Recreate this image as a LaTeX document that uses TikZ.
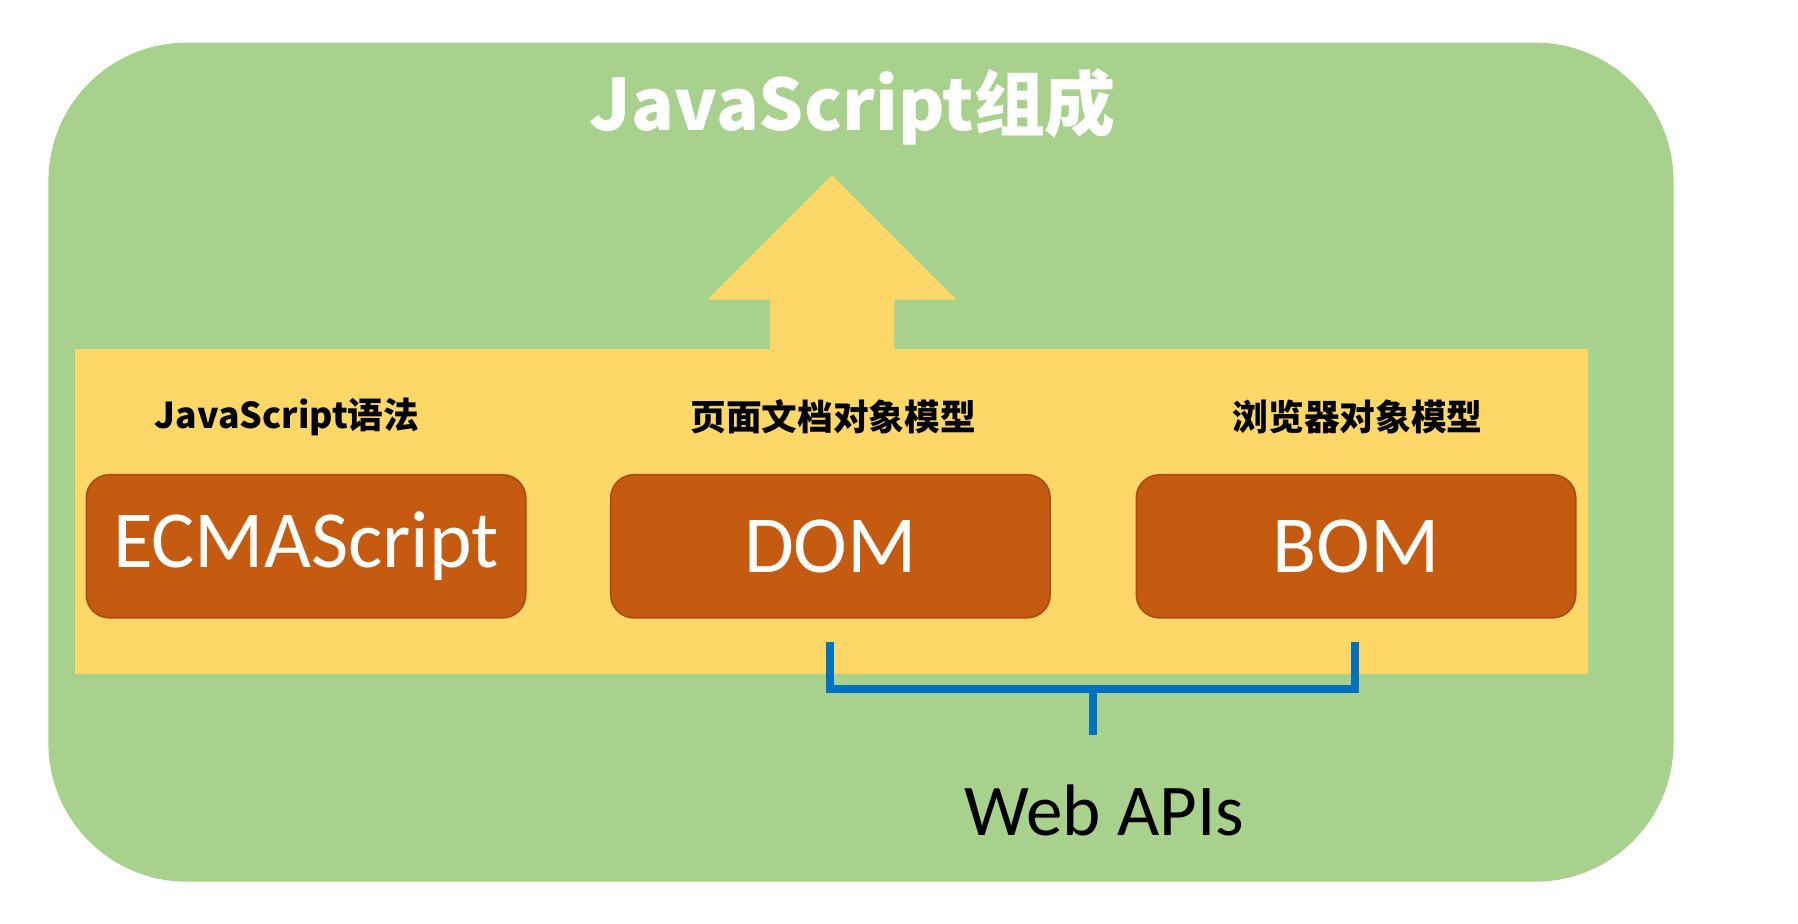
\documentclass[tikz,border=0pt]{standalone}
\usepackage{fontspec}
\setmainfont{Carlito}
\newfontfamily\cjk{Noto Sans CJK SC}
\definecolor{bggreen}{HTML}{A9D18E}
\definecolor{ylw}{HTML}{FDD868}
\definecolor{org}{HTML}{C55A11}
\definecolor{blu}{HTML}{0070C0}
\begin{document}
\begin{tikzpicture}[x=0.01cm,y=-0.01cm,
  box/.style={fill=org,draw=org!85!black,line width=0.4pt,rounded corners=0.2cm,minimum width=3.81cm,minimum height=1.24cm,text=white,font=\fontsize{20}{22}\selectfont},
  lbl/.style={font=\cjk\bfseries\fontsize{8.8}{10}\selectfont}]
\useasboundingbox (0,0) rectangle (1560,801);
\fill[bggreen,rounded corners=1.2cm] (42,37) rectangle (1452,765);
\fill[ylw] (65,303) rectangle (1378,585);
\fill[ylw] (668,304) -- (668,260) -- (614,260) -- (722,152) -- (830,260) -- (776,260) -- (776,304) -- cycle;
\node[font=\cjk\bfseries\fontsize{17.5}{20}\selectfont,text=white] (title) at (740,93) {JavaScript组成};
\node[lbl] (l1) at (249,362) {JavaScript语法};
\node[lbl] (l2) at (723,362) {页面文档对象模型};
\node[lbl] (l3) at (1178,362) {浏览器对象模型};
\node[box] (ecma) at (265.5,474) {ECMAScript};
\node[box] (dom) at (720.5,474) {DOM};
\node[box] (bom) at (1176.5,474) {BOM};
\coordinate (a) at (720,557);
\coordinate (b) at (1176,557);
\coordinate (m) at (948,638);
\draw[blu,line width=0.07cm] (a) -- (720,598) -- (1176,598) -- (b);
\draw[blu,line width=0.07cm] (948,598) -- (m);
\node[font=\fontsize{18}{20}\selectfont] (web) at (958,703) {Web APIs};
\end{tikzpicture}
\end{document}
